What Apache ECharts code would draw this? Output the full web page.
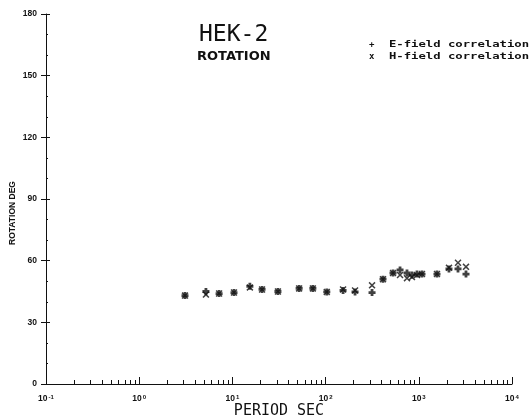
<!DOCTYPE html>
<html><head><meta charset="utf-8">
<script src="https://cdn.jsdelivr.net/npm/echarts@6/dist/echarts.min.js"></script>
<style>html,body{margin:0;padding:0;background:#fff}#c{width:532px;height:419px}</style>
</head><body><div id="c"></div>
<script>
// Data
const periods = [3.1, 5.2, 7.2, 10.4, 15.4, 20.8, 30.8, 52, 73, 103, 154, 207, 315, 413, 529, 629, 747, 845, 956, 1082, 1567, 2108, 2634, 3209];
const eField  = [43, 45, 44, 44.5, 47.5, 46, 45, 46.5, 46.5, 44.8, 45.5, 44.8, 44.5, 51, 54, 55.5, 54, 53, 53.5, 53.5, 53.5, 56, 56, 53.5];
const hField  = [43, 43.5, 44, 44.5, 47, 46, 45, 46.5, 46.5, 44.8, 46, 45.5, 48, 51, 54, 53, 51.5, 52, 53, 53.5, 53.5, 56.5, 59, 57];
const seriesNames = ['E-field correlation', 'H-field correlation'];
const legendMarks = ['+', 'x'];
const xDecades = [0.1, 1, 10, 100, 1000, 10000];
const xMinor = [];
[0.1, 1, 10, 100, 1000].forEach(d => { for (let k = 2; k <= 9; k++) xMinor.push(+(d * k).toPrecision(3)); });
const yMinor = [10, 20, 40, 50, 70, 80, 100, 110, 130, 140, 160, 170];

const plusPath = 'path://M3,0H7V3H10V7H7V10H3V7H0V3H3Z';
const crossPath = 'path://M1.5,0L5,3.5L8.5,0L10,1.5L6.5,5L10,8.5L8.5,10L5,6.5L1.5,10L0,8.5L3.5,5L0,1.5Z';
const FONT = 'DejaVu Sans';
const LIB = 'Liberation Sans';
const MONO = 'DejaVu Sans Mono';
const INK = '#111';
const expMap = {'0.1':'-1','1':'0','10':'1','100':'2','1000':'3','10000':'4'};

const chart = echarts.init(document.getElementById('c'), null, {renderer: 'canvas'});
chart.setOption({
  animation: false,
  backgroundColor: '#fff',
  grid: {left: 46, right: 20, top: 14, bottom: 35, outerBoundsMode: 'none', containLabel: false},
  title: [
    {text: 'HEK-2', left: 194, top: 19, textStyle: {fontFamily: MONO, fontSize: 23, fontWeight: 'normal', color: INK}},
    {text: 'ROTATION', left: 192, top: 45, textStyle: {fontFamily: FONT, fontSize: 13, fontWeight: 'bold', color: INK}}
  ],
  graphic: [0, 1].map(i => ({
    type: 'group', x: 369, y: 45 + 12 * i,
    children: [
      {type: 'text', x: 0, y: 0, style: {text: legendMarks[i], font: 'bold 9px "DejaVu Sans Mono"', fill: INK, verticalAlign: 'middle'}},
      {type: 'text', x: 20, y: 0, scaleX: 1.36, style: {text: seriesNames[i], font: 'bold 9px "DejaVu Sans Mono"', fill: INK, verticalAlign: 'middle'}}
    ]
  })),
  xAxis: [{
    type: 'log', logBase: 10, min: 0.1, max: 10000, position: 'bottom',
    name: 'PERIOD SEC', nameLocation: 'middle', nameGap: 20, nameMoveOverlap: false,
    nameTextStyle: {fontFamily: MONO, fontSize: 15, color: INK, verticalAlign: 'top'},
    axisLine: {lineStyle: {color: INK, width: 1}},
    axisTick: {inside: true, length: 7, lineStyle: {color: INK}, customValues: xDecades},
    axisLabel: {
      customValues: xDecades, margin: 10,
      formatter: v => '{b|10}{s|' + expMap[String(+v.toPrecision(3))] + '}',
      rich: {b: {fontFamily: LIB, fontSize: 8.5, fontWeight: 'bold', color: INK},
             s: {fontFamily: LIB, fontSize: 6, fontWeight: 'bold', color: INK, verticalAlign: 'top', padding: [0, 0, 4, 1]}}
    },
    splitLine: {show: false}
  }, {
    type: 'log', logBase: 10, min: 0.1, max: 10000, position: 'bottom', gridIndex: 0,
    axisLine: {show: false},
    axisTick: {inside: true, length: 4, lineStyle: {color: INK}, customValues: xMinor},
    axisLabel: {show: false}, splitLine: {show: false}
  }],
  yAxis: [{
    type: 'value', min: 0, max: 180, interval: 30,
    name: 'ROTATION DEG', nameLocation: 'middle', nameGap: 29, nameRotate: 90, nameMoveOverlap: false,
    nameTextStyle: {fontFamily: LIB, fontSize: 8.5, fontWeight: 'bold', color: INK, padding: [0, 28, 0, 0]},
    axisLine: {lineStyle: {color: INK, width: 1}},
    axisTick: {inside: false, length: 5, lineStyle: {color: INK}},
    axisLabel: {fontFamily: LIB, fontSize: 8.5, fontWeight: 'bold', color: INK, margin: 9},
    splitLine: {show: false}
  }, {
    type: 'value', min: 0, max: 180, interval: 30, position: 'left',
    axisLine: {show: false},
    axisTick: {inside: true, length: 4, lineStyle: {color: INK}},
    axisLabel: {show: false}, splitLine: {show: false}
  }, {
    type: 'value', min: 0, max: 180, position: 'left',
    axisLine: {show: false},
    axisTick: {inside: true, length: 2, lineStyle: {color: INK}, customValues: yMinor},
    axisLabel: {show: false, customValues: yMinor}, splitLine: {show: false}
  }],
  series: [
    {name: seriesNames[0], type: 'scatter', xAxisIndex: 0, yAxisIndex: 0, symbol: plusPath, symbolSize: 7,
     itemStyle: {color: INK}, data: periods.map((p, i) => [p, eField[i]])},
    {name: seriesNames[1], type: 'scatter', xAxisIndex: 0, yAxisIndex: 0, symbol: crossPath, symbolSize: 7,
     itemStyle: {color: INK}, data: periods.map((p, i) => [p, hField[i]])}
  ]
});
</script></body></html>
